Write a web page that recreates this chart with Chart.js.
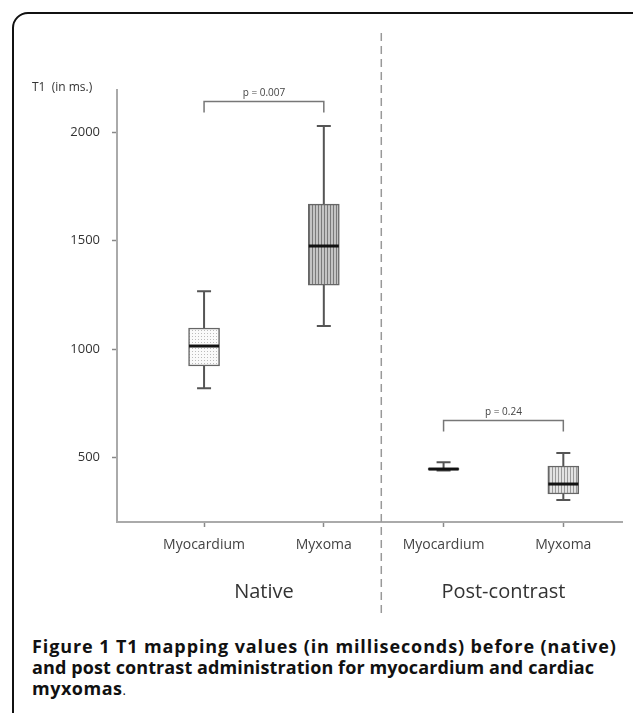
<!DOCTYPE html>
<html>
<head>
<meta charset="utf-8">
<script src="https://cdn.jsdelivr.net/npm/chart.js@4.4.0/dist/chart.umd.min.js"></script>
<style>
  body { margin: 0; background: #fff; width: 633px; height: 713px; overflow: hidden; position: relative; }
  .frame { position: absolute; left: 12px; top: 12px; width: 640px; height: 740px; border: 2px solid #111; border-radius: 16px; box-sizing: border-box; }
  #wrap { position: absolute; left: 0; top: 0; width: 633px; height: 625px; }
  .caption { position: absolute; left: 32px; top: 636px; width: 600px; font-family: "Open Sans", sans-serif; font-size: 18px; line-height: 21px; color: #111; font-weight: 700; white-space: nowrap; }
  .caption .l1 { letter-spacing: 0.9px; }
  .caption .l2 { letter-spacing: 0.1px; }
  .caption .l3 { letter-spacing: 0.5px; }
  .caption .dot { font-weight: 400; font-size: 13px; }
</style>
</head>
<body>
<div class="frame"></div>
<div id="wrap"><canvas id="chart" width="633" height="625"></canvas></div>
<div class="caption"><span class="l1">Figure 1 T1 mapping values (in milliseconds) before (native)</span><br><span class="l2">and post contrast administration for myocardium and cardiac</span><br><span class="l3">myxomas</span><span class="dot">.</span></div>
<script>
// categories and groups
const categories = ["Myocardium", "Myxoma", "Myocardium", "Myxoma"];
const groups = ["Native", "Post-contrast"];
const yTicks = [500, 1000, 1500, 2000];

// box plot values (ms), one entry per category
const whiskerMin = [820, 1106, 440, 304];
const q1Values = [922, 1295, 443, 332];
const medians = [1014, 1475, 447, 378];
const q3Values = [1097, 1668, 451, 461];
const whiskerMax = [1267, 2028, 478, 521];

// significance brackets: [from category, to category, level, label]
const brackets = [
  [1, 2, 2143, "p = 0.007"],
  [3, 4, 673, "p = 0.24"]
];

function makePattern(kind) {
  const c = document.createElement("canvas");
  c.width = 3; c.height = 3;
  const g = c.getContext("2d");
  if (kind === "dots") {
    g.fillStyle = "#fafafa"; g.fillRect(0, 0, 3, 3);
    g.fillStyle = "#bbb"; g.fillRect(0, 0, 1, 1);
  } else if (kind === "dark") {
    g.fillStyle = "#c4c4c4"; g.fillRect(0, 0, 3, 3);
    g.fillStyle = "#7a7a7a"; g.fillRect(0, 0, 1, 3);
  } else {
    g.fillStyle = "#e2e2e2"; g.fillRect(0, 0, 3, 3);
    g.fillStyle = "#999"; g.fillRect(0, 0, 1, 3);
  }
  return g.createPattern(c, "repeat");
}

const fills = [makePattern("dots"), makePattern("dark"), makePattern("light"), makePattern("light")];

const boxPlot = {
  id: "boxPlot",
  beforeDatasetsDraw(chart) {
    const { ctx, scales: { x, y } } = chart;
    ctx.save();
    ctx.strokeStyle = "#555";
    ctx.lineWidth = 2;
    categories.forEach((c, i) => {
      const px = x.getPixelForValue(i + 1);
      const half = 7;
      ctx.beginPath();
      ctx.moveTo(px, y.getPixelForValue(whiskerMax[i]));
      ctx.lineTo(px, y.getPixelForValue(q3Values[i]));
      ctx.moveTo(px, y.getPixelForValue(q1Values[i]));
      ctx.lineTo(px, y.getPixelForValue(whiskerMin[i]));
      ctx.moveTo(px - half, y.getPixelForValue(whiskerMax[i]));
      ctx.lineTo(px + half, y.getPixelForValue(whiskerMax[i]));
      ctx.moveTo(px - half, y.getPixelForValue(whiskerMin[i]));
      ctx.lineTo(px + half, y.getPixelForValue(whiskerMin[i]));
      ctx.stroke();
    });
    ctx.restore();
  },
  afterDatasetsDraw(chart) {
    const { ctx, scales: { x, y }, chartArea } = chart;
    ctx.save();
    // medians
    ctx.strokeStyle = "#111";
    ctx.lineWidth = 3;
    categories.forEach((c, i) => {
      const px = x.getPixelForValue(i + 1);
      const py = y.getPixelForValue(medians[i]);
      ctx.beginPath();
      ctx.moveTo(px - 15, py);
      ctx.lineTo(px + 15, py);
      ctx.stroke();
    });
    // brackets
    ctx.strokeStyle = "#777";
    ctx.lineWidth = 1.5;
    ctx.fillStyle = "#444";
    ctx.font = "10px 'Open Sans'";
    ctx.textAlign = "center";
    ctx.textBaseline = "bottom";
    brackets.forEach(([a, b, level, label]) => {
      const x1 = x.getPixelForValue(a), x2 = x.getPixelForValue(b);
      const py = Math.round(y.getPixelForValue(level)) + 0.5;
      ctx.beginPath();
      ctx.moveTo(x1, py + 11);
      ctx.lineTo(x1, py);
      ctx.lineTo(x2, py);
      ctx.lineTo(x2, py + 11);
      ctx.stroke();
      ctx.fillText(label, (x1 + x2) / 2, py - 3);
    });
    // divider between groups
    const dx = x.getPixelForValue(2.48);
    ctx.strokeStyle = "#999";
    ctx.lineWidth = 1.5;
    ctx.setLineDash([8, 5]);
    ctx.beginPath();
    ctx.moveTo(dx, 33);
    ctx.lineTo(dx, 617);
    ctx.stroke();
    ctx.setLineDash([]);
    // group labels
    ctx.fillStyle = "#333";
    ctx.font = "20px 'Open Sans'";
    ctx.textBaseline = "middle";
    groups.forEach((g, i) => {
      ctx.fillText(g, x.getPixelForValue(i * 2 + 1.5), 592);
    });
    // y axis title
    ctx.font = "12px 'Open Sans'";
    ctx.textAlign = "left";
    ctx.fillStyle = "#333";
    ctx.fillText("T1  (in ms.)", 32, chartArea.top - 2);
    ctx.restore();
  }
};

new Chart(document.getElementById("chart"), {
  type: "bar",
  data: {
    datasets: [{
      data: categories.map((c, i) => ({ x: i + 1, y: [q1Values[i], q3Values[i]] })),
      backgroundColor: fills,
      borderColor: "#666",
      borderWidth: 1.5,
      borderSkipped: false,
      barThickness: 31
    }]
  },
  options: {
    responsive: false,
    devicePixelRatio: 1,
    animation: false,
    layout: { padding: { top: 90, right: 11, left: 0, bottom: 0 } },
    plugins: { legend: { display: false }, tooltip: { enabled: false } },
    scales: {
      x: {
        type: "linear",
        offset: false,
        min: 0.273,
        max: 4.49,
        afterBuildTicks: (s) => { s.ticks = categories.map((c, i) => ({ value: i + 1 })); },
        afterFit: (s) => { s.height = 103; },
        ticks: {
          callback: (v) => categories[v - 1],
          color: "#444",
          font: { family: "Open Sans", size: 14 },
          padding: 10,
          autoSkip: false,
          maxRotation: 0
        },
        grid: { offset: false, drawOnChartArea: false, tickLength: 5, tickColor: "#888", tickWidth: 1.5 },
        border: { color: "#aaa", width: 2 }
      },
      y: {
        min: 203,
        max: 2194,
        afterBuildTicks: (s) => { s.ticks = yTicks.map((v) => ({ value: v })); },
        afterFit: (s) => { s.width = 117; },
        ticks: {
          callback: (v) => String(v),
          color: "#333",
          font: { family: "Open Sans", size: 13 },
          padding: 12
        },
        grid: { drawOnChartArea: false, tickLength: 5, tickColor: "#888", tickWidth: 1.5 },
        border: { color: "#aaa", width: 2 }
      }
    }
  },
  plugins: [boxPlot]
});
</script>
</body>
</html>
